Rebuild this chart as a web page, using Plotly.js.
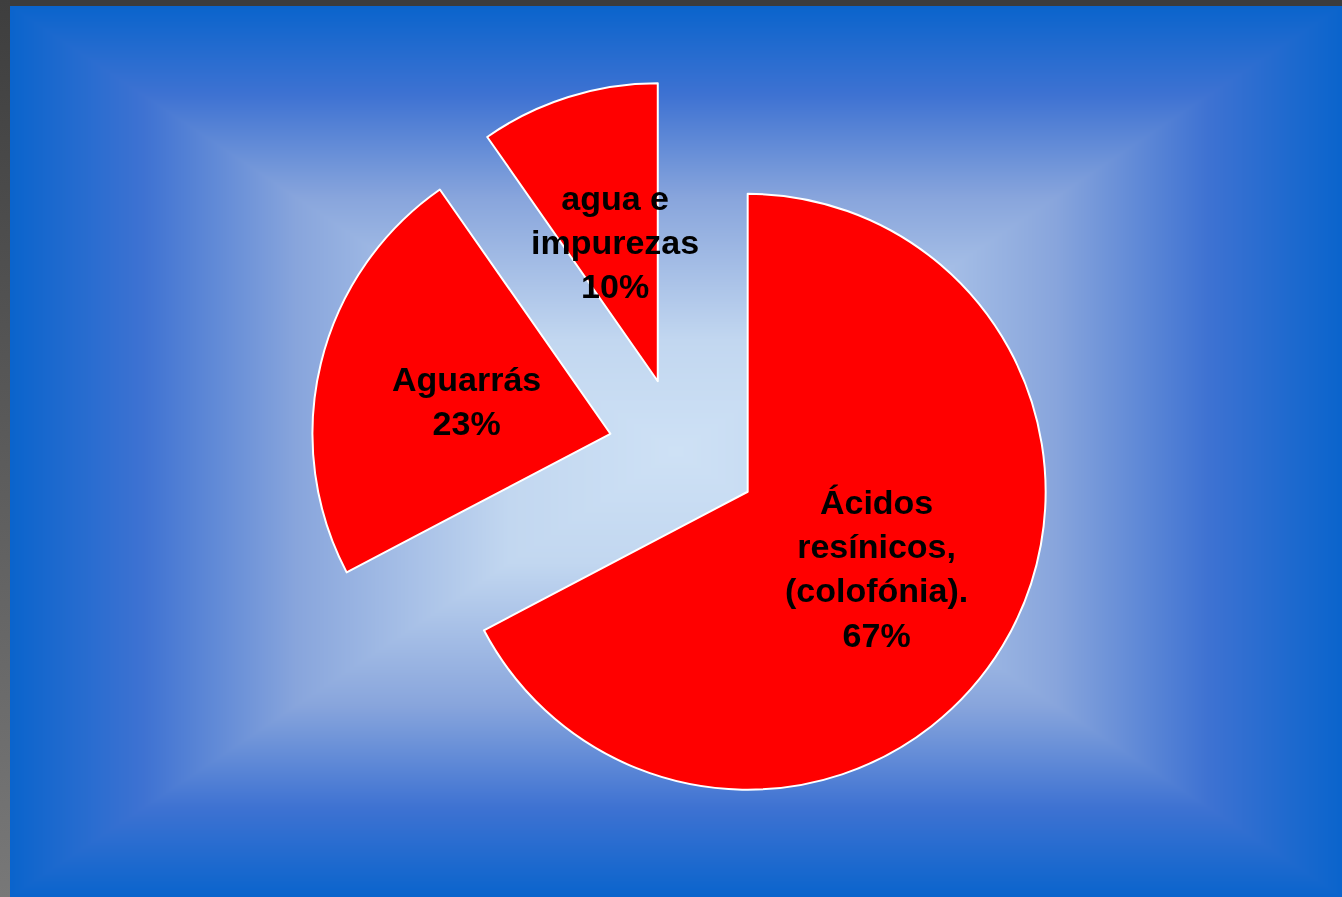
<!DOCTYPE html>
<html>
<head>
<meta charset="utf-8">
<script src="https://cdn.plot.ly/plotly-3.0.1.min.js"></script>
<style>
  html, body { margin: 0; padding: 0; width: 1342px; height: 897px; overflow: hidden; background: #3c3c3c; }
  #bg { position: absolute; left: 0; top: 0; }
  #chart { position: absolute; left: 0; top: 0; width: 1342px; height: 897px; }
</style>
</head>
<body>
<canvas id="bg" width="1342" height="897"></canvas>
<div id="chart"></div>
<script>
// ---- data ----
const labels = ['Ácidos<br>resínicos,<br>(colofónia).', 'Aguarrás', 'agua e<br>impurezas'];
const values = [67.3, 23.0, 9.7];
const labelPos = [[876, 568], [466, 401], [615, 242]]; // label centres (px)

// ---- background: rectangular gradient + dark frame ----
(function () {
  const W = 1342, H = 897;
  const cv = document.getElementById('bg');
  const ctx = cv.getContext('2d');
  ctx.fillStyle = '#3c3c3c';
  ctx.fillRect(0, 0, W, H);
  const lg = ctx.createLinearGradient(0, 0, 0, H);
  lg.addColorStop(0, '#3e3e3e');
  lg.addColorStop(1, '#787878');
  ctx.fillStyle = lg;
  ctx.fillRect(0, 0, 10, H);
  const x0 = 10, y0 = 6, x1 = W, y1 = H;
  const hw = (x1 - x0) / 2, hh = (y1 - y0) / 2;
  const stops = [
    [0.00, [10, 100, 204]],
    [0.20, [62, 114, 210]],
    [0.43, [136, 165, 220]],
    [0.75, [194, 215, 240]],
    [1.00, [206, 225, 245]]
  ];
  function col(t) {
    for (let i = 1; i < stops.length; i++) {
      if (t <= stops[i][0]) {
        const a = stops[i - 1], b = stops[i];
        const f = (t - a[0]) / (b[0] - a[0]);
        return [a[1][0] + (b[1][0] - a[1][0]) * f, a[1][1] + (b[1][1] - a[1][1]) * f, a[1][2] + (b[1][2] - a[1][2]) * f];
      }
    }
    return stops[stops.length - 1][1];
  }
  const w = x1 - x0, h = y1 - y0;
  const img = ctx.createImageData(w, h);
  const d = img.data;
  for (let y = 0; y < h; y++) {
    const ty = Math.min(y + 0.5, h - y - 0.5) / hh;
    for (let x = 0; x < w; x++) {
      const tx = Math.min(x + 0.5, w - x - 0.5) / hw;
      const c = col(Math.min(tx, ty));
      const k = (y * w + x) * 4;
      d[k] = c[0]; d[k + 1] = c[1]; d[k + 2] = c[2]; d[k + 3] = 255;
    }
  }
  ctx.putImageData(img, x0, y0);
})();

// ---- chart ----
const FW = 1342, FH = 897;
const total = values.reduce((a, b) => a + b, 0);
const annotations = labels.map((l, i) => ({
  text: l + '<br>' + Math.round(values[i] / total * 100) + '%',
  x: labelPos[i][0] / FW,
  y: 1 - labelPos[i][1] / FH,
  xref: 'paper', yref: 'paper',
  xanchor: 'center', yanchor: 'middle',
  showarrow: false,
  align: 'center',
  font: { family: 'Liberation Sans, Arial, sans-serif', size: 34, color: '#000000', weight: 'bold' }
}));

const trace = {
  type: 'pie',
  labels: labels,
  values: values,
  sort: false,
  direction: 'clockwise',
  rotation: 0,
  pull: [0.267, 0.239, 0.244],
  marker: { colors: ['#ff0000', '#ff0000', '#ff0000'], line: { color: '#ffffff', width: 2 } },
  textinfo: 'none',
  textposition: 'none',
  hoverinfo: 'label+percent',
  domain: { x: [0.2251, 0.7877], y: [0.0768, 0.9185] }
};

const layout = {
  width: FW, height: FH,
  margin: { l: 0, r: 0, t: 0, b: 0 },
  paper_bgcolor: 'rgba(0,0,0,0)',
  plot_bgcolor: 'rgba(0,0,0,0)',
  showlegend: false,
  annotations: annotations
};

Plotly.newPlot('chart', [trace], layout, { displayModeBar: false, staticPlot: true });
</script>
</body>
</html>
